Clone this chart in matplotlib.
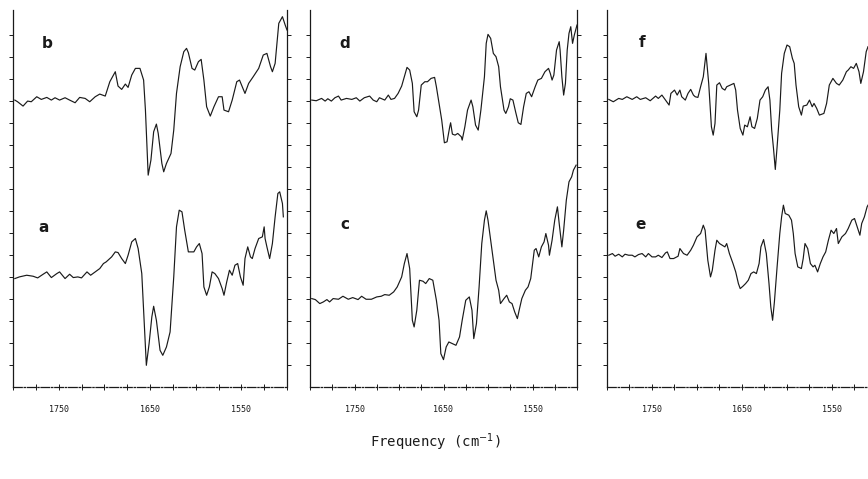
import matplotlib
matplotlib.use("Agg")
import matplotlib.pyplot as plt
from matplotlib.ticker import MultipleLocator, FixedLocator

# Difference spectra: wavenumber (cm-1) and signal
# relative to each trace's own flat baseline (arbitrary units)
wn_b = [1798, 1795, 1789, 1784, 1780, 1774, 1769, 1763, 1758, 1754, 1749, 1743, 1738, 1732, 1727,
        1721, 1716, 1710, 1705, 1699, 1694, 1688, 1685, 1681, 1677, 1674, 1670, 1666, 1661, 1657,
        1655, 1652, 1649, 1646, 1643, 1641, 1637, 1635, 1632, 1627, 1624, 1621, 1617, 1613, 1610,
        1608, 1604, 1601, 1597, 1594, 1591, 1588, 1584, 1580, 1575, 1571, 1569, 1564, 1560, 1555,
        1552, 1546, 1542, 1537, 1531, 1526, 1522, 1518, 1516, 1513, 1509, 1505, 1502, 1500]
sig_b = [0, -0.5, -1.8, -0.3, -0.5, 1.0, 0.2, 0.8, 0, 0.7, 0, 0.7, 0, -0.8, 0.8,
         0.5, -0.5, 1.0, 1.8, 1.2, 5.5, 8.5, 4.2, 3.2, 4.8, 3.8, 7.5, 9.5, 9.5, 6.0,
         -3.0, -22.5, -18.0, -9.5, -7.2, -10.0, -19.0, -21.5, -19.0, -16.0, -9.0, 2.0, 10.0, 14.5, 15.5,
         14.2, 9.5, 9.0, 11.5, 12.2, 6.0, -2.0, -4.8, -2.0, 1.0, 1.0, -3.0, -3.5, 0, 5.5,
         6.0, 2.0, 5.0, 7.0, 9.5, 13.5, 14.0, 10.0, 8.5, 11.0, 23.0, 25.0, 22.5, 21.0]

wn_a = [1798, 1793, 1785, 1778, 1773, 1767, 1763, 1758, 1752, 1749, 1743, 1738, 1734, 1729, 1725,
        1719, 1715, 1710, 1705, 1701, 1698, 1692, 1688, 1685, 1681, 1677, 1674, 1670, 1666, 1663,
        1659, 1657, 1654, 1651, 1648, 1646, 1643, 1639, 1636, 1632, 1628, 1624, 1621, 1618, 1615,
        1612, 1608, 1602, 1599, 1596, 1593, 1591, 1588, 1585, 1582, 1579, 1575, 1571, 1569, 1566,
        1563, 1560, 1557, 1554, 1551, 1548, 1546, 1543, 1540, 1538, 1535, 1531, 1527, 1525, 1524,
        1522, 1519, 1516, 1513, 1510, 1508, 1505, 1504]
sig_a = [-0.3, 0.2, 0.7, 0.4, -0.1, 1.0, 1.7, 0, 1.2, 1.7, -0.3, 1.0, 0, 0.2, -0.1,
         1.7, 0.7, 1.7, 2.7, 4.2, 4.7, 6.2, 7.7, 7.5, 5.7, 4.2, 6.7, 10.7, 11.7, 8.7,
         1.2, -9.8, -26.3, -19.8, -11.8, -8.6, -12.8, -21.8, -23.3, -20.8, -16.3, 0.2, 15.2, 20.2, 19.7,
         14.2, 7.7, 7.7, 9.2, 10.2, 7.2, -2.8, -5.3, -2.8, 1.7, 1.2, -0.3, -3.3, -5.3, -1.3,
         2.2, 0.7, 3.7, 4.2, 0.2, -2.3, 5.7, 9.2, 6.2, 5.7, 8.7, 11.7, 12.2, 15.2, 11.7,
         9.2, 5.7, 10.2, 18.2, 25.2, 25.7, 22.2, 18.2]

wn_d = [1798, 1793, 1787, 1783, 1780, 1776, 1772, 1768, 1765, 1759, 1753, 1748, 1744, 1739, 1733,
        1729, 1725, 1722, 1716, 1712, 1709, 1705, 1701, 1697, 1694, 1691, 1688, 1685, 1683, 1680,
        1678, 1675, 1671, 1668, 1664, 1660, 1658, 1655, 1652, 1649, 1646, 1643, 1642, 1640, 1637,
        1634, 1630, 1629, 1626, 1623, 1619, 1617, 1614, 1611, 1608, 1604, 1602, 1600, 1597, 1594,
        1591, 1588, 1586, 1582, 1580, 1577, 1575, 1572, 1569, 1566, 1563, 1560, 1557, 1554, 1551,
        1547, 1544, 1540, 1536, 1532, 1530, 1528, 1526, 1523, 1520, 1519, 1517, 1515, 1513, 1511,
        1509, 1507, 1505, 1503, 1500]
sig_d = [0, -0.2, 0.5, -0.3, 0.4, -0.3, 0.7, 1.2, 0, 0.5, 0.2, 0.7, -0.3, 0.7, 1.2,
         0, -0.5, 0.7, 0, 1.5, 0.2, 0.5, 2.0, 4.2, 7.0, 9.8, 9.0, 5.0, -3.5, -5.0,
         -3.0, 4.5, 5.5, 5.5, 6.5, 6.8, 4.0, -1.0, -6.0, -12.8, -12.5, -8.0, -6.8, -10.2, -10.5,
         -10.0, -11.0, -12.0, -8.0, -3.0, 0, -2.0, -7.5, -9.0, -3.0, 7.0, 17.0, 19.7, 18.5, 14.0,
         13.0, 10.0, 4.0, -3.0, -4.0, -2.0, 0.4, 0, -3.5, -6.8, -7.3, -2.0, 2.0, 2.5, 1.0,
         4.0, 6.0, 6.5, 8.5, 9.5, 8.0, 6.0, 7.5, 15.0, 17.5, 15.0, 7.0, 1.5, 5.0, 15.0,
         20.0, 22.0, 17.0, 19.5, 22.5]

wn_c = [1798, 1794, 1789, 1785, 1781, 1778, 1774, 1768, 1763, 1757, 1752, 1746, 1742, 1737, 1731,
        1725, 1720, 1716, 1711, 1706, 1702, 1697, 1694, 1691, 1688, 1685, 1683, 1680, 1677, 1673,
        1670, 1666, 1662, 1658, 1655, 1653, 1650, 1647, 1644, 1640, 1636, 1632, 1629, 1625, 1621,
        1618, 1616, 1613, 1610, 1607, 1604, 1602, 1600, 1597, 1593, 1591, 1588, 1586, 1582, 1579,
        1576, 1573, 1570, 1567, 1565, 1562, 1558, 1555, 1552, 1548, 1546, 1543, 1540, 1537, 1535,
        1532, 1531, 1528, 1525, 1522, 1520, 1517, 1515, 1512, 1509, 1506, 1504, 1501]
sig_c = [0, -0.3, -1.5, -1.0, -0.3, -1.0, 0, -0.2, 0.7, -0.2, 0.3, -0.3, 0.7, -0.2, -0.2,
         0.5, 0.7, 1.2, 1.0, 2.0, 3.5, 6.5, 10.5, 13.5, 9.0, -6.5, -8.5, -3.5, 5.5, 5.2,
         4.5, 6.0, 5.5, -0.5, -6.5, -16.5, -18.3, -14.5, -13.0, -13.5, -14.0, -11.5, -6.5, -0.5, 0.5,
         -3.5, -12.0, -7.5, 3.5, 16.5, 23.5, 26.3, 23.5, 17.5, 9.5, 5.5, 2.5, -1.5, 0, 1.0,
         -1.0, -1.5, -4.0, -6.0, -3.5, 0, 2.5, 3.5, 6.0, 14.5, 15.0, 12.5, 15.5, 17.0, 19.5,
         16.0, 13.0, 17.5, 23.5, 27.5, 22.5, 15.5, 20.5, 29.5, 35.0, 36.5, 38.5, 40.0]

wn_f = [1798, 1793, 1787, 1783, 1778, 1772, 1767, 1763, 1757, 1752, 1746, 1743, 1739, 1735, 1731,
        1729, 1725, 1722, 1719, 1717, 1713, 1710, 1707, 1704, 1702, 1699, 1696, 1693, 1690, 1687,
        1684, 1682, 1680, 1678, 1675, 1672, 1669, 1667, 1663, 1659, 1657, 1655, 1652, 1649, 1647,
        1644, 1641, 1639, 1636, 1633, 1630, 1627, 1624, 1621, 1619, 1617, 1615, 1613, 1611, 1608,
        1606, 1603, 1600, 1597, 1594, 1592, 1590, 1587, 1584, 1582, 1578, 1575, 1572, 1570, 1567,
        1564, 1559, 1556, 1553, 1549, 1545, 1542, 1538, 1534, 1532, 1529, 1526, 1523, 1520, 1518,
        1515, 1512, 1510]
sig_f = [0, -0.7, 0.3, 0, 0.8, 0, 0.8, 0, 0.5, -0.4, 1.0, 0.3, 1.3, -0.2, -1.7,
         1.8, 2.8, 1.3, 2.8, 0.8, -0.2, 1.8, 3.0, 1.3, 0.8, 0.6, 3.8, 6.8, 13.8, 4.8,
         -8.2, -10.7, -7.2, 4.3, 5.0, 3.3, 2.8, 3.8, 4.3, 4.8, 2.8, -3.2, -8.7, -10.7, -7.7,
         -8.2, -5.2, -8.2, -8.7, -5.7, -0.2, 0.8, 2.8, 3.8, -0.2, -9.2, -14.7, -21.0, -14.2, -3.2,
         7.8, 13.8, 16.3, 15.8, 12.3, 10.8, 4.3, -2.2, -4.7, -2.0, -1.7, -0.2, -2.2, -1.2, -2.7,
         -4.7, -4.2, -1.2, 4.3, 6.3, 4.8, 4.3, 5.8, 8.3, 8.8, 9.8, 9.3, 10.8, 8.3, 4.8,
         8.3, 14.3, 15.8]

wn_e = [1798, 1794, 1791, 1787, 1783, 1780, 1776, 1772, 1769, 1765, 1761, 1757, 1754, 1750, 1746,
        1743, 1739, 1735, 1733, 1730, 1726, 1721, 1719, 1715, 1711, 1707, 1704, 1700, 1696, 1693,
        1691, 1688, 1685, 1683, 1680, 1678, 1675, 1672, 1669, 1667, 1664, 1660, 1657, 1654, 1652,
        1649, 1646, 1643, 1640, 1637, 1634, 1631, 1629, 1626, 1623, 1620, 1618, 1616, 1614, 1611,
        1608, 1606, 1604, 1602, 1598, 1595, 1593, 1591, 1588, 1584, 1582, 1580, 1577, 1574, 1571,
        1569, 1566, 1563, 1560, 1557, 1554, 1551, 1548, 1545, 1543, 1539, 1535, 1532, 1528, 1525,
        1522, 1519, 1517, 1514, 1511, 1510]
sig_e = [0, 0.5, -0.3, 0.3, -0.5, 0.3, 0, 0, -0.5, 0.2, 0.5, -0.5, 0.5, -0.5, -0.5,
         0, -0.7, 0.7, 1.0, -1.0, -1.0, -0.3, 2.0, 0.5, 0, 1.5, 3.0, 5.5, 6.5, 9.0,
         7.5, -1.5, -6.5, -4.5, 1.5, 4.5, 3.5, 3.0, 2.5, 3.5, 0.5, -2.5, -5.0, -8.5, -10.0,
         -9.3, -8.5, -7.5, -5.5, -5.0, -5.5, -2.5, 2.5, 4.7, 0.5, -8.5, -15.5, -19.5, -14.0, -3.5,
         6.5, 11.5, 15.0, 12.5, 12.0, 10.5, 6.5, 0.5, -3.5, -4.0, -1.0, 3.5, 2.0, -2.5, -3.5,
         -3.0, -5.0, -2.5, -0.5, 1.0, 4.5, 7.5, 6.5, 8.0, 3.5, 5.5, 6.5, 8.0, 10.5, 11.0,
         8.5, 6.0, 9.5, 11.5, 14.5, 15.0]

# vertical offsets that stack the traces (baseline of each trace)
panels = [
    ("b", wn_b, sig_b, 86.0, "a", wn_a, sig_a, 32.8),
    ("d", wn_d, sig_d, 86.0, "c", wn_c, sig_c, 26.5),
    ("f", wn_f, sig_f, 86.2, "e", wn_e, sig_e, 39.5),
]

W, H = 868, 479
fig = plt.figure(figsize=(W / 100, H / 100), dpi=100)

# axes boxes in pixels: left, right, top, bottom
boxes = [(13, 287, 10, 387), (310, 577, 10, 387), (607, 877, 10, 387)]
label_pos = [((0.124, 0.912), (0.11, 0.424)),
             ((0.131, 0.912), (0.131, 0.43)),
             ((0.13, 0.915), (0.124, 0.43))]

ink = "#1a1a1a"
for (l, r, t, b), (top_lab, wt, st, ot, bot_lab, wb, sb, ob), (pt, pb) in zip(boxes, panels, label_pos):
    ax = fig.add_axes([l / W, (H - b) / H, (r - l) / W, (b - t) / H])
    ax.plot(wt, [v + ot for v in st], color=ink, lw=0.85, solid_joinstyle="round")
    ax.plot(wb, [v + ob for v in sb], color=ink, lw=0.85, solid_joinstyle="round")
    ax.set_xlim(1800, 1500)
    ax.set_ylim(0, 113)

    ax.spines["top"].set_visible(False)
    for s in ("left", "right", "bottom"):
        ax.spines[s].set_color(ink)
        ax.spines[s].set_linewidth(0.9)
    ax.spines["bottom"].set_linestyle((0, (7, 1.5, 1, 1.5)))

    ax.xaxis.set_major_locator(FixedLocator([1750, 1650, 1550]))
    ax.xaxis.set_minor_locator(MultipleLocator(25))
    ax.yaxis.set_major_locator(FixedLocator([6.6 * k for k in range(1, 17)]))
    ax.tick_params(axis="x", which="both", direction="inout", length=4, width=0.7,
                   colors=ink, labelsize=6, pad=11)
    ax.tick_params(axis="y", which="both", direction="out", length=3, width=0.7,
                   colors=ink, left=True, right=True, labelleft=False)
    for lab in ax.get_xticklabels():
        lab.set_family("DejaVu Sans Mono")

    ax.text(pt[0], pt[1], top_lab, transform=ax.transAxes, fontsize=11,
            fontweight="bold", color=ink, ha="center", va="center")
    ax.text(pb[0], pb[1], bot_lab, transform=ax.transAxes, fontsize=11,
            fontweight="bold", color=ink, ha="center", va="center")

fig.text(435 / W, 1 - 442 / H, "Frequency (cm$^{-1}$)", ha="center", va="center",
         fontsize=10, family="DejaVu Sans Mono", color=ink)

fig.savefig("out.png", dpi=100)
